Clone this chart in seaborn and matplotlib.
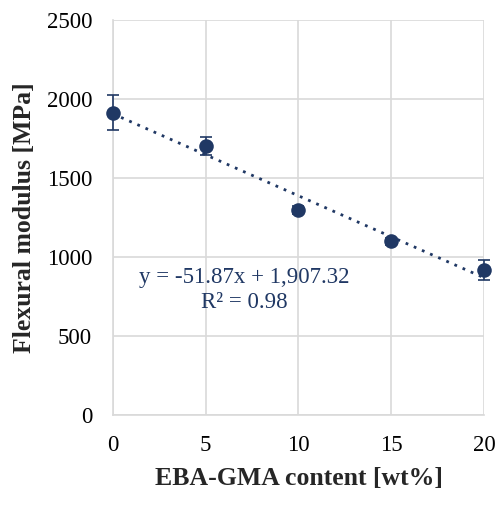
import numpy as np
import pandas as pd
import matplotlib
matplotlib.use("Agg")
import matplotlib.pyplot as plt
import seaborn as sns

# Flexural modulus vs. EBA-GMA content
content = [0, 5, 10, 15, 20]
modulus = [1915, 1705, 1300, 1100, 920]
modulus_err = [110, 57, 25, 20, 62]

# Linear trendline coefficients
slope = -51.87
intercept = 1907.32
r_squared = 0.98

x_ticks = [0, 5, 10, 15, 20]
y_ticks = [0, 500, 1000, 1500, 2000, 2500]

navy = "#203864"
grid_grey = "#d9d9d9"

sns.set_theme(style="white")
plt.rcParams["font.family"] = ["Liberation Serif", "DejaVu Serif"]

df = pd.DataFrame({"content": content, "modulus": modulus})
trend_x = np.array([content[0], content[-1]], dtype=float)
trend = pd.DataFrame({"x": trend_x, "y": slope * trend_x + intercept})

fig = plt.figure(figsize=(5.02, 5.05), dpi=100)
ax = fig.add_axes([0.225, 0.178, 0.739, 0.782])

ax.errorbar(content, modulus, yerr=modulus_err, fmt="none", ecolor=navy,
            elinewidth=1.2, capsize=4, capthick=1.2, zorder=3, clip_on=False)
sns.lineplot(data=trend, x="x", y="y", ax=ax, color=navy, linestyle=(0, (1, 2.2)),
             linewidth=2, zorder=2)
sns.scatterplot(data=df, x="content", y="modulus", ax=ax, color=navy, s=110,
                edgecolor=navy, linewidth=0, zorder=4, clip_on=False)

ax.set_xlim(0, 20)
ax.set_ylim(0, 2500)
ax.set_xticks(x_ticks)
ax.set_yticks(y_ticks)
ax.grid(True, color=grid_grey, linewidth=1.2)
ax.set_axisbelow(True)
for side in ["top", "right"]:
    ax.spines[side].set_visible(False)
for side in ["left", "bottom"]:
    ax.spines[side].set_color(grid_grey)
    ax.spines[side].set_linewidth(1.2)

ax.tick_params(axis="both", length=0, labelsize=16.5, labelcolor="black")
ax.tick_params(axis="y", pad=15)
ax.tick_params(axis="x", pad=14)

ax.set_xlabel("EBA-GMA content [wt%]", fontsize=18.5, fontweight="bold", labelpad=8)
ax.set_ylabel("Flexural modulus [MPa]", fontsize=18.5, fontweight="bold", labelpad=8)

ax.text(7.09, 873, f"y = {slope:.2f}x + {intercept:,.2f}", color=navy, fontsize=16.5,
        ha="center", va="center")
ax.text(7.09, 715, f"R² = {r_squared:.2f}", color=navy, fontsize=16.5,
        ha="center", va="center")

fig.savefig("out.png", dpi=100)
